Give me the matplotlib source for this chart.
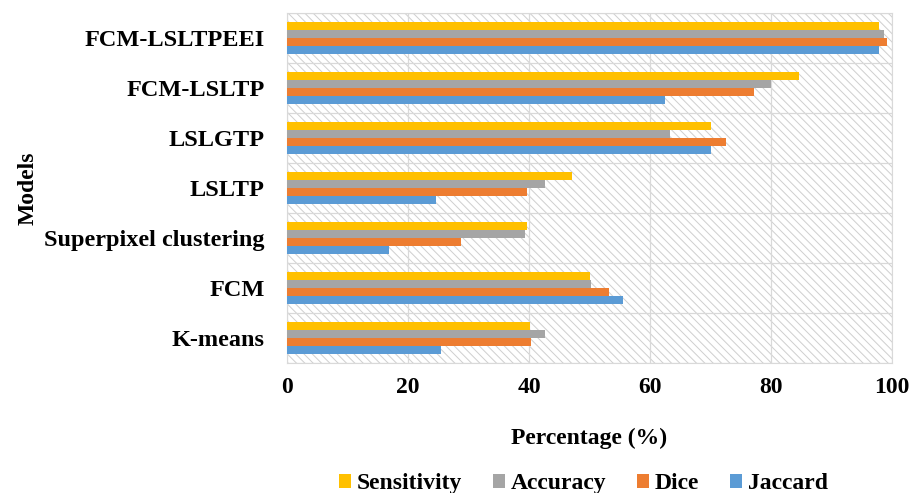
import matplotlib
matplotlib.use('Agg')
import matplotlib.pyplot as plt
import numpy as np
from matplotlib.patches import Rectangle

models = ['FCM-LSLTPEEI', 'FCM-LSLTP', 'LSLGTP', 'LSLTP',
          'Superpixel clustering', 'FCM', 'K-means']
sensitivity = [97.9, 84.6, 70.0, 47.1, 39.6, 50.0, 40.1]
accuracy = [98.7, 80.0, 63.3, 42.6, 39.3, 50.3, 42.6]
dice = [99.1, 77.1, 72.6, 39.6, 28.7, 53.2, 40.4]
jaccard = [97.9, 62.5, 70.0, 24.6, 16.8, 55.6, 25.5]

series_names = ['Sensitivity', 'Accuracy', 'Dice', 'Jaccard']
series_vals = [sensitivity, accuracy, dice, jaccard]
colors = ['#FFC000', '#A5A5A5', '#ED7D31', '#5B9BD5']

plt.rcParams['font.family'] = ['Liberation Serif', 'DejaVu Serif']
plt.rcParams['font.weight'] = 'bold'
plt.rcParams['hatch.linewidth'] = 0.7
plt.rcParams['hatch.color'] = '#CFCFCF'

fig = plt.figure(figsize=(9.14, 4.93), dpi=100)
ax = fig.add_axes([0.314, 0.264, 0.662, 0.71])

# hatched background
bg = Rectangle((0, 0), 1, 1, transform=ax.transAxes, facecolor='white',
               edgecolor='#CFCFCF', hatch='\\\\\\\\', linewidth=0, zorder=0)
ax.add_patch(bg)

y = np.arange(len(models))
bar_h = 0.16
for i, (name, vals, c) in enumerate(zip(series_names, series_vals, colors)):
    ax.barh(y - 1.5 * bar_h + i * bar_h, vals, height=bar_h, color=c,
            label=name, zorder=3)

ax.set_xlim(0, 100)
ax.set_ylim(len(models) - 0.5, -0.5)
ax.set_xticks(np.arange(0, 101, 20))
ax.set_yticks(y)
ax.set_yticklabels(models, fontsize=17.5, fontweight='bold')
ax.tick_params(axis='x', labelsize=17, length=0, pad=10)
ax.tick_params(axis='y', length=0, pad=16)

ax.set_yticks(np.arange(-0.5, len(models), 1), minor=True)
ax.tick_params(axis='y', which='minor', length=0)
ax.grid(axis='x', color='#D9D9D9', linewidth=0.9, zorder=1)
ax.grid(axis='y', which='minor', color='#D9D9D9', linewidth=0.9, zorder=1)
ax.grid(axis='y', which='major', visible=False)
for s in ax.spines.values():
    s.set_color('#D9D9D9')

ax.set_xlabel('Percentage (%)', fontsize=17, fontweight='bold', labelpad=22)
ax.set_ylabel('Models', fontsize=17, fontweight='bold', labelpad=4)

ax.legend(loc='upper center', bbox_to_anchor=(0.49, -0.255), ncol=4,
          frameon=False, fontsize=17, handlelength=0.5, handleheight=0.5,
          handletextpad=0.25, columnspacing=1.3)

fig.savefig('out.png', dpi=100)
